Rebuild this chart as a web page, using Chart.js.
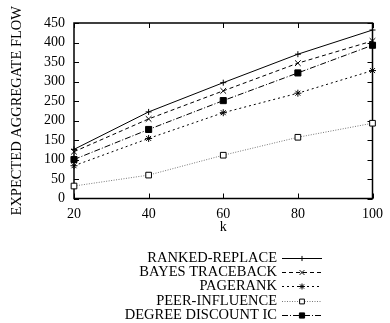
<!DOCTYPE html>
<html>
<head>
<meta charset="utf-8">
<script src="https://cdn.jsdelivr.net/npm/chart.js@4"></script>
<style>
  html, body { margin: 0; padding: 0; background: #fff; }
  #wrap { width: 390px; height: 323px; }
</style>
</head>
<body>
<div id="wrap"><canvas id="flowChart"></canvas></div>
<script>
const kValues = [20, 40, 60, 80, 100];
const rankedReplace = [126, 222, 297, 370, 432];
const bayesTraceback = [120, 204, 276, 347, 404];
const pageRank = [84, 154, 220, 270, 328];
const peerInfluence = [32, 60, 111, 157, 193];
const degreeDiscount = [100, 177, 251, 322, 393];
const seriesLabels = ["RANKED-REPLACE", "BAYES TRACEBACK", "PAGERANK", "PEER-INFLUENCE", "DEGREE DISCOUNT IC"];

const serif = "'Liberation Serif', 'Times New Roman', serif";
Chart.defaults.font.family = serif;
Chart.defaults.font.size = 14;
Chart.defaults.color = "#000";

const toPoints = vals => vals.map((v, i) => ({ x: kValues[i], y: v }));

// gnuplot-like box with inward ticks
const framePlugin = {
  id: "frame",
  beforeDatasetsDraw(chart) {
    const { ctx, chartArea: a, scales } = chart;
    ctx.save();
    ctx.strokeStyle = "#000";
    ctx.lineWidth = 1.5;
    ctx.strokeRect(a.left, a.top, a.right - a.left, a.bottom - a.top);
    ctx.lineWidth = 1;
    ctx.beginPath();
    scales.x.ticks.forEach(t => {
      const px = Math.round(scales.x.getPixelForValue(t.value)) + 0.5;
      ctx.moveTo(px, a.bottom); ctx.lineTo(px, a.bottom - 5);
      ctx.moveTo(px, a.top); ctx.lineTo(px, a.top + 5);
    });
    scales.y.ticks.forEach(t => {
      const py = Math.round(scales.y.getPixelForValue(t.value)) + 0.5;
      ctx.moveTo(a.left, py); ctx.lineTo(a.left + 5, py);
      ctx.moveTo(a.right, py); ctx.lineTo(a.right - 5, py);
    });
    ctx.stroke();
    ctx.restore();
  }
};

// legend: label text right-aligned, then the line sample
const legendPlugin = {
  id: "sideLegend",
  afterDraw(chart) {
    const ctx = chart.ctx;
    ctx.save();
    ctx.font = "14.5px " + serif;
    ctx.textAlign = "right";
    ctx.textBaseline = "middle";
    chart.data.datasets.forEach((ds, i) => {
      const y = Math.round(257.5 + i * 14.4) + 0.5;
      ctx.fillStyle = "#000";
      ctx.fillText(ds.label, 277, y);
      ctx.strokeStyle = ds.borderColor;
      ctx.lineWidth = ds.borderWidth;
      ctx.setLineDash(ds.borderDash || []);
      ctx.beginPath();
      ctx.moveTo(282, y);
      ctx.lineTo(322, y);
      ctx.stroke();
      ctx.setLineDash([]);
      ctx.strokeStyle = ds.pointBorderColor;
      ctx.fillStyle = ds.pointBackgroundColor;
      ctx.lineWidth = 1;
      Chart.helpers.drawPoint(ctx, { pointStyle: ds.pointStyle, radius: ds.pointRadius * 0.85, borderWidth: 1, rotation: 0 }, 302, y);
    });
    ctx.restore();
  }
};

const common = { borderWidth: 1, pointBorderWidth: 1, pointBorderColor: "#000", clip: false, tension: 0 };

new Chart(document.getElementById("flowChart"), {
  type: "line",
  data: {
    datasets: [
      { ...common, label: seriesLabels[0], data: toPoints(rankedReplace), borderColor: "#000", pointStyle: "cross", pointRadius: 3, pointBackgroundColor: "#000" },
      { ...common, label: seriesLabels[1], data: toPoints(bayesTraceback), borderColor: "#000", borderDash: [4, 3], pointStyle: "crossRot", pointRadius: 4, pointBackgroundColor: "#000" },
      { ...common, label: seriesLabels[2], data: toPoints(pageRank), borderColor: "#000", borderDash: [2, 3], pointStyle: "star", pointRadius: 3.5, pointBackgroundColor: "#000" },
      { ...common, label: seriesLabels[3], data: toPoints(peerInfluence), borderColor: "#777", borderDash: [1, 1.5], pointStyle: "rect", pointRadius: 4, pointBackgroundColor: "#fff" },
      { ...common, label: seriesLabels[4], data: toPoints(degreeDiscount), borderColor: "#000", borderDash: [6, 2, 1, 2], pointStyle: "rect", pointRadius: 4.3, pointBackgroundColor: "#000" }
    ]
  },
  options: {
    responsive: true,
    maintainAspectRatio: false,
    animation: false,
    layout: { padding: { top: 23, right: 11, left: 0, bottom: 0 } },
    plugins: { legend: { display: false }, tooltip: { enabled: false } },
    scales: {
      x: {
        type: "linear",
        min: 20,
        max: 100,
        grid: { display: false, drawTicks: false },
        border: { display: false },
        ticks: { stepSize: 20, padding: 7, autoSkip: false, maxRotation: 0 },
        title: { display: true, text: "k", padding: { top: 0, bottom: 87 } },
        afterFit(scale) { scale.height = 124.5; }
      },
      y: {
        min: 0,
        max: 450,
        grid: { display: false, drawTicks: false },
        border: { display: false },
        ticks: { stepSize: 50, padding: 9, autoSkip: false },
        title: { display: true, text: "EXPECTED AGGREGATE FLOW", font: { size: 14.5 }, padding: { top: 8, bottom: 0 } },
        afterFit(scale) { scale.width = 74; }
      }
    }
  },
  plugins: [framePlugin, legendPlugin]
});
</script>
</body>
</html>
